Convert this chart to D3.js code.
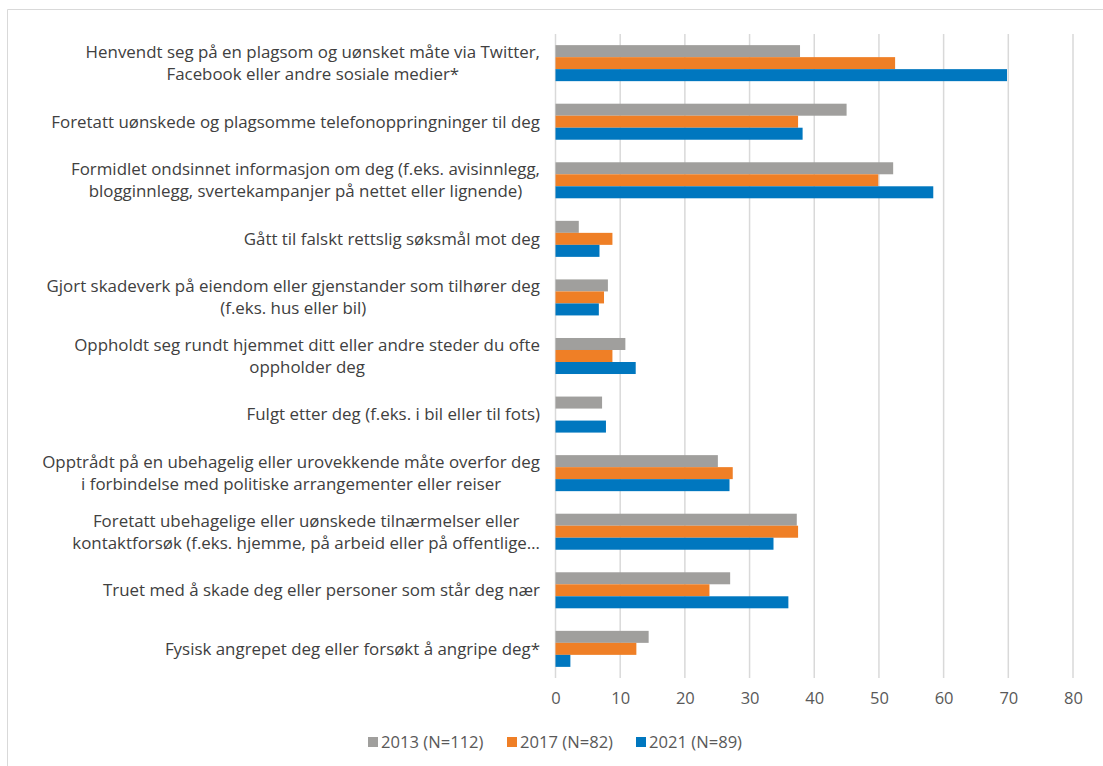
<!DOCTYPE html>
<html>
<head>
<meta charset="utf-8">
<script src="https://cdn.jsdelivr.net/npm/d3@7"></script>
<style>
  html, body { margin: 0; padding: 0; background: #fff; }
  svg { display: block; }
  text { font-family: "Open Sans", Roboto, sans-serif; }
</style>
</head>
<body>
<svg id="chart" width="1103" height="766"></svg>
<script>
const categories = [
  ["Henvendt seg på en plagsom og uønsket måte via Twitter,", "Facebook eller andre sosiale medier*"],
  ["Foretatt uønskede og plagsomme telefonoppringninger til deg"],
  ["Formidlet ondsinnet informasjon om deg (f.eks. avisinnlegg,", "blogginnlegg, svertekampanjer på nettet eller lignende)"],
  ["Gått til falskt rettslig søksmål mot deg"],
  ["Gjort skadeverk på eiendom eller gjenstander som tilhører deg", "(f.eks. hus eller bil)"],
  ["Oppholdt seg rundt hjemmet ditt eller andre steder du ofte", "oppholder deg"],
  ["Fulgt etter deg (f.eks. i bil eller til fots)"],
  ["Opptrådt på en ubehagelig eller urovekkende måte overfor deg", "i forbindelse med politiske arrangementer eller reiser"],
  ["Foretatt ubehagelige eller uønskede tilnærmelser eller", "kontaktforsøk (f.eks. hjemme, på arbeid eller på offentlige…"],
  ["Truet med å skade deg eller personer som står deg nær"],
  ["Fysisk angrepet deg eller forsøkt å angripe deg*"]
];
const seriesNames = ["2013 (N=112)", "2017 (N=82)", "2021 (N=89)"];
const values2013 = [37.8, 45.0, 52.2, 3.6, 8.1, 10.8, 7.2, 25.1, 37.3, 27.0, 14.4];
const values2017 = [52.5, 37.5, 49.9, 8.8, 7.5, 8.8, 0, 27.4, 37.5, 23.8, 12.5];
const values2021 = [69.8, 38.2, 58.4, 6.8, 6.7, 12.4, 7.8, 26.9, 33.7, 36.0, 2.3];
const xTicks = [0, 10, 20, 30, 40, 50, 60, 70, 80];
const colors = ["#a09f9d", "#ef7f26", "#0077bf"];

const series = [values2013, values2017, values2021];
const svg = d3.select("#chart");
const FONT = "'Open Sans', Roboto, sans-serif";

// chart border
svg.append("path")
  .attr("d", "M7.5,766 L7.5,9.5 L1103,9.5")
  .attr("fill", "none").attr("stroke", "#d9d9d9").attr("stroke-width", 1);

const x = d3.scaleLinear().domain([0, 80]).range([555.5, 1073]);
const y = d3.scaleBand().domain(d3.range(categories.length)).range([34, 678]).paddingInner(0.385).paddingOuter(0.19);
const ySub = d3.scaleBand().domain([0, 1, 2]).range([0, y.bandwidth()]);

// gridlines
svg.append("g").selectAll("line").data(xTicks).join("line")
  .attr("x1", d => x(d)).attr("x2", d => x(d))
  .attr("y1", 34).attr("y2", 678)
  .attr("stroke", "#d9d9d9").attr("stroke-width", 1.5);

// bars
const groups = svg.append("g").selectAll("g").data(categories).join("g")
  .attr("transform", (d, i) => `translate(0,${y(i)})`);
series.forEach((vals, s) => {
  groups.append("rect")
    .attr("x", x(0))
    .attr("y", ySub(s))
    .attr("width", (d, i) => x(vals[i]) - x(0))
    .attr("height", ySub.bandwidth())
    .attr("fill", colors[s]);
});

// axis labels
const xAxis = d3.axisBottom(x).tickValues(xTicks).tickSize(0).tickPadding(0);
const ax = svg.append("g").attr("transform", "translate(0,692)").call(xAxis);
ax.select(".domain").remove();
ax.selectAll("text").attr("font-size", 16.5).attr("fill", "#595959")
  .attr("font-family", FONT).attr("dy", "0.71em");

// category labels
const labelRight = 540;
const lineH = 22;
categories.forEach((lines, i) => {
  const cy = y(i) + y.bandwidth() / 2;
  const g = svg.append("g");
  const texts = lines.map((ln, k) => g.append("text")
    .attr("font-size", 16.9).attr("fill", "#404040")
    .attr("y", cy + (k - (lines.length - 1) / 2) * lineH)
    .attr("dy", "0.35em")
    .attr("text-anchor", "middle")
    .text(ln));
  const maxW = d3.max(texts, t => t.node().getComputedTextLength());
  texts.forEach(t => t.attr("x", labelRight - maxW / 2));
});

// legend
const legX = [368, 507, 636];
seriesNames.forEach((n, s) => {
  svg.append("rect").attr("x", legX[s]).attr("y", 737).attr("width", 10).attr("height", 10).attr("fill", colors[s]);
  svg.append("text").attr("x", legX[s] + 13).attr("y", 742).attr("dy", "0.35em")
    .attr("font-size", 16.6).attr("fill", "#595959").text(n);
});
</script>
</body>
</html>
